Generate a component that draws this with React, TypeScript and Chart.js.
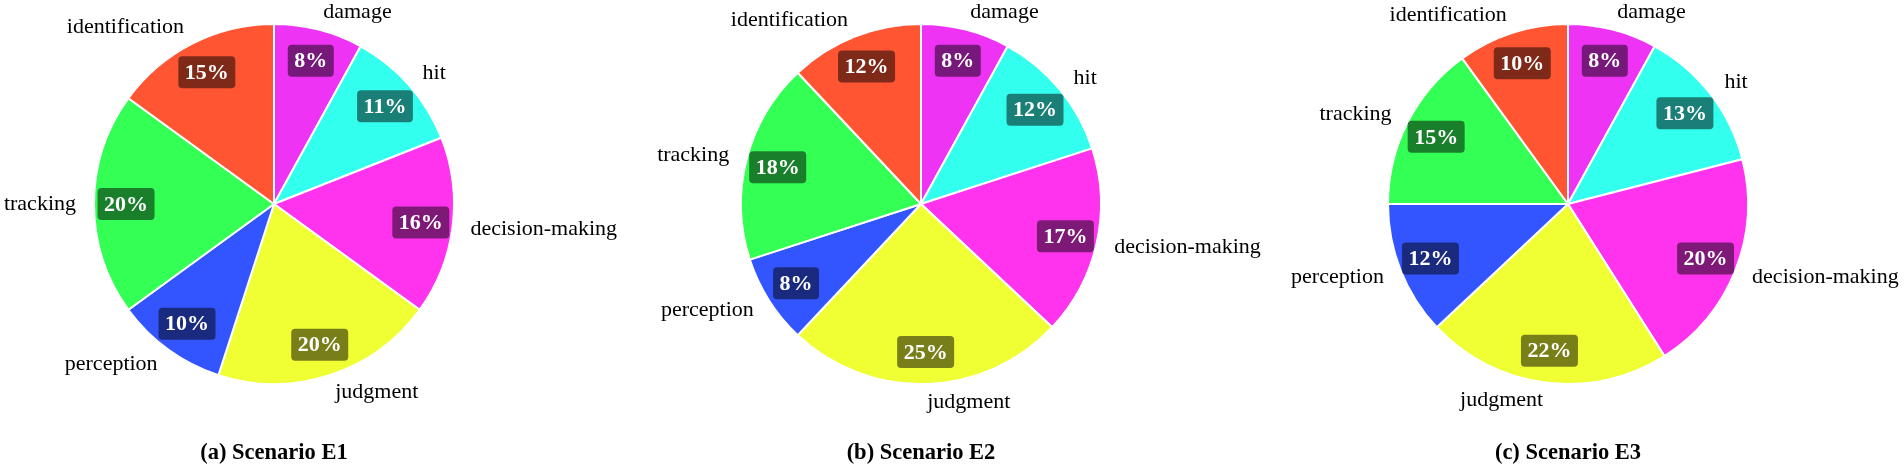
import React, { useEffect, useRef } from "react";
import { Chart, registerables } from "chart.js";

Chart.register(...registerables);

// ---- data ----
const categories = ["damage", "hit", "decision-making", "judgment", "perception", "tracking", "identification"];
const scenarioE1 = [8, 11, 16, 20, 10, 20, 15];
const scenarioE2 = [8, 12, 17, 25, 8, 18, 12];
const scenarioE3 = [8, 13, 20, 22, 12, 15, 10];
const scenarioTitles = ["(a) Scenario E1", "(b) Scenario E2", "(c) Scenario E3"];
const sliceColors = ["#EF33F5", "#33FFEE", "#FF33EE", "#F0FF33", "#3355FF", "#33FF55", "#FF5533"];

const SERIF = '"Liberation Serif", "Times New Roman", serif';

const sliceLabelPlugin = {
  id: "sliceLabels",
  afterDatasetsDraw(chart: any) {
    const ctx = chart.ctx;
    const meta = chart.getDatasetMeta(0);
    const data = chart.data.datasets[0].data as number[];
    const labels = chart.data.labels as string[];
    meta.data.forEach((arc: any, i: number) => {
      const { x, y, startAngle, endAngle, outerRadius } = arc.getProps(
        ["x", "y", "startAngle", "endAngle", "outerRadius"],
        true
      );
      const mid = (startAngle + endAngle) / 2;
      const c = Math.cos(mid);
      const s = Math.sin(mid);
      ctx.save();
      // value badge
      const br = outerRadius * 0.822;
      const bx = x + c * br;
      const by = y + s * br;
      const text = data[i] + "%";
      ctx.font = "bold 22px " + SERIF;
      const tw = ctx.measureText(text).width;
      const w = tw + 13;
      const h = 32;
      ctx.fillStyle = "rgba(0,0,0,0.5)";
      ctx.beginPath();
      (ctx as any).roundRect(bx - w / 2, by - h / 2, w, h, 4);
      ctx.fill();
      ctx.fillStyle = "#ffffff";
      ctx.textAlign = "center";
      ctx.textBaseline = "middle";
      ctx.fillText(text, bx, by + 1);
      // category label outside
      const lr = outerRadius + 18;
      const lx = x + c * lr;
      const ly = y + s * lr;
      ctx.font = "22px " + SERIF;
      ctx.fillStyle = "#000000";
      ctx.textAlign = c >= 0 ? "left" : "right";
      ctx.textBaseline = "middle";
      ctx.fillText(labels[i], lx, ly);
      ctx.restore();
    });
  },
};

const CANVAS_W = 780;
const CANVAS_H = 466;

function ScenarioPie({ values, centerX }: { values: number[]; centerX: number }) {
  const ref = useRef<HTMLCanvasElement | null>(null);
  useEffect(() => {
    if (!ref.current) return;
    const chart = new Chart(ref.current, {
      type: "pie",
      data: {
        labels: categories,
        datasets: [
          {
            data: values,
            backgroundColor: sliceColors,
            borderColor: "#ffffff",
            borderWidth: 2,
          },
        ],
      },
      options: {
        responsive: false,
        devicePixelRatio: 1,
        animation: false,
        layout: { padding: { top: 23, bottom: 81, left: 0, right: 0 } },
        plugins: {
          legend: { display: false },
          tooltip: { enabled: false },
          title: { display: false },
        },
      },
      plugins: [sliceLabelPlugin],
    });
    return () => chart.destroy();
  }, [values]);
  return (
    <canvas
      ref={ref}
      width={CANVAS_W}
      height={CANVAS_H}
      style={{ position: "absolute", left: centerX - CANVAS_W / 2, top: 0 }}
    />
  );
}

const pieCenters = [274, 921, 1568];
const scenarioValues = [scenarioE1, scenarioE2, scenarioE3];

export default function App() {
  useEffect(() => {
    document.body.style.margin = "0";
    document.body.style.background = "#ffffff";
  }, []);
  return (
    <div
      style={{
        position: "relative",
        width: 1904,
        height: 466,
        overflow: "hidden",
        background: "#ffffff",
      }}
    >
      {scenarioValues.map((vals, i) => (
        <ScenarioPie key={i} values={vals} centerX={pieCenters[i]} />
      ))}
      {scenarioTitles.map((t, i) => (
        <div
          key={"t" + i}
          style={{
            position: "absolute",
            left: pieCenters[i] - 200,
            width: 400,
            top: 440,
            height: 24,
            lineHeight: "24px",
            textAlign: "center",
            fontFamily: SERIF,
            fontWeight: "bold",
            fontSize: 22.5,
            color: "#000",
          }}
        >
          {t}
        </div>
      ))}
    </div>
  );
}
